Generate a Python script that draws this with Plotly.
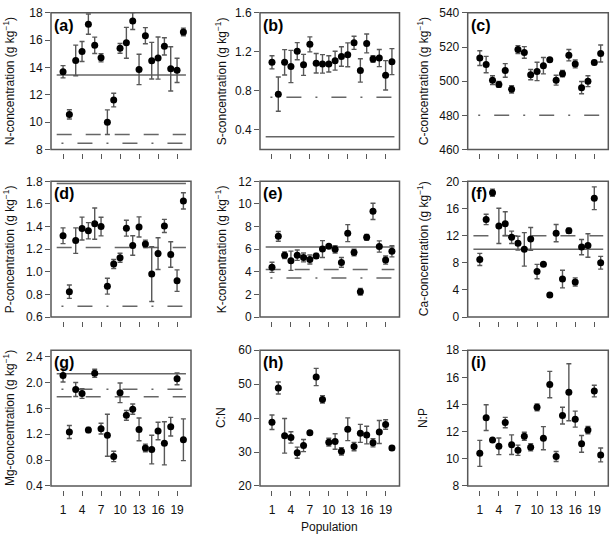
import plotly.graph_objects as go

# ---------------- data ----------------
population = list(range(1, 21))
x_tick_vals = [1, 4, 7, 10, 13, 16, 19]

n_mean = [13.69, 10.57, 14.52, 15.17, 17.17, 15.62, 14.71, 10.0, 11.62, 15.4,
          15.81, 17.4, 13.86, 16.33, 14.5, 14.69, 15.55, 13.9, 13.79, 16.6]
n_se = [0.45, 0.34, 1.12, 0.73, 0.74, 0.6, 0.3, 0.9, 0.5, 0.36,
        1.13, 0.62, 1.11, 0.59, 1.34, 1.54, 0.63, 1.62, 0.89, 0.28]

s_mean = [1.093, 0.767, 1.093, 1.05, 1.207, 1.067, 1.277, 1.083, 1.077, 1.077,
          1.11, 1.153, 1.17, 1.293, 1.01, 1.287, 1.127, 1.137, 0.96, 1.1]
s_se = [0.067, 0.175, 0.13, 0.165, 0.088, 0.108, 0.077, 0.1, 0.095, 0.083,
        0.097, 0.1, 0.122, 0.067, 0.12, 0.097, 0.033, 0.088, 0.15, 0.133]

c_mean = [513.5, 509.7, 500.6, 498.1, 506.3, 495.2, 518.5, 516.8, 503.8, 505.7,
          509.1, 512.6, 500.6, 504.4, 515.2, 510.1, 496.2, 500.0, 511.0, 516.2]
c_se = [4.3, 4.8, 2.6, 1.7, 4.0, 2.1, 2.3, 3.4, 3.0, 5.4,
        4.8, 1.0, 2.9, 1.9, 3.3, 2.3, 3.6, 3.2, 1.2, 5.0]

p_mean = [1.319, 0.824, 1.276, 1.383, 1.363, 1.426, 1.4, 0.873, 1.069, 1.124,
          1.386, 1.233, 1.397, 1.247, 0.98, 1.161, 1.406, 1.153, 0.922, 1.627]
p_se = [0.07, 0.059, 0.113, 0.101, 0.072, 0.138, 0.082, 0.07, 0.04, 0.04,
        0.07, 0.086, 0.089, 0.033, 0.242, 0.14, 0.058, 0.113, 0.095, 0.072]

k_mean = [4.40, 7.14, 5.47, 4.98, 5.47, 5.27, 5.09, 5.41, 6.01, 6.27,
          5.99, 4.83, 7.42, 5.70, 2.24, 7.05, 9.35, 6.24, 5.04, 5.81]
k_se = [0.45, 0.43, 0.29, 0.85, 0.46, 0.39, 0.4, 0.22, 0.75, 0.13,
        0.33, 0.43, 0.75, 0.29, 0.3, 0.26, 0.72, 0.5, 0.36, 0.49]

ca_mean = [8.49, 14.39, 18.32, 13.43, 13.76, 11.75, 10.89, 9.98, 11.51, 6.71,
           7.77, 3.26, 12.37, 5.6, 12.71, 5.18, 10.31, 10.55, 17.51, 8.01]
ca_se = [0.89, 0.77, 0.53, 2.6, 1.75, 0.91, 1.03, 2.47, 1.68, 1.06,
         0.17, 0.22, 1.27, 1.3, 0.38, 0.6, 1.13, 1.73, 1.68, 0.94]

mg_mean = [2.108, 1.235, 1.891, 1.83, 1.265, 2.143, 1.286, 1.185, 0.857, 1.84,
           1.492, 1.588, 1.275, 0.988, 0.963, 1.25, 1.059, 1.316, 2.057, 1.114]
mg_se = [0.1, 0.1, 0.108, 0.076, 0.038, 0.063, 0.083, 0.325, 0.08, 0.152,
         0.076, 0.079, 0.177, 0.059, 0.222, 0.136, 0.333, 0.144, 0.091, 0.323]

cn_mean = [38.76, 48.86, 34.76, 34.29, 29.8, 31.9, 35.7, 52.1, 45.5, 32.9,
           33.1, 30.2, 36.7, 31.6, 35.5, 35.0, 32.7, 35.9, 38.1, 31.2]
cn_se = [2.14, 1.77, 5.1, 1.67, 1.65, 1.8, 0.5, 2.55, 1.1, 1.15,
         2.3, 1.1, 3.35, 1.25, 2.65, 2.6, 1.2, 3.4, 1.4, 0.55]

np_mean = [10.4, 13.03, 11.38, 10.92, 12.67, 11.04, 10.63, 11.66, 10.85, 13.79,
           11.52, 15.47, 10.17, 13.18, 14.9, 12.92, 11.1, 12.12, 14.99, 10.28]
np_se = [0.96, 0.95, 0.12, 0.61, 0.38, 0.72, 0.38, 0.29, 0.27, 0.25,
         0.85, 0.97, 0.37, 0.62, 2.1, 0.59, 0.62, 0.27, 0.43, 0.51]

panel_letters = ["(a)", "(b)", "(c)", "(d)", "(e)", "(f)", "(g)", "(h)", "(i)"]
y_titles = ["N-concentration (g kg<sup>−1</sup>)", "S-concentration (g kg<sup>−1</sup>)",
            "C-concentration (g kg<sup>−1</sup>)", "P-concentration (g kg<sup>−1</sup>)",
            "K-concentration (g kg<sup>−1</sup>)", "Ca-concentration (g kg<sup>−1</sup>)",
            "Mg-concentration (g kg<sup>−1</sup>)", "C:N", "N:P"]
y_ranges = [[8, 18], [0.2, 1.6], [460, 540], [0.6, 1.8], [0, 12], [0, 20],
            [0.4, 2.5], [20, 60], [8, 18]]
y_tick_vals = [[8, 10, 12, 14, 16, 18], [0.4, 0.8, 1.2, 1.6], [460, 480, 500, 520, 540],
               [0.6, 0.8, 1.0, 1.2, 1.4, 1.6, 1.8], [0, 2, 4, 6, 8, 10, 12],
               [0, 4, 8, 12, 16, 20], [0.4, 0.8, 1.2, 1.6, 2.0, 2.4],
               [20, 30, 40, 50, 60], [8, 10, 12, 14, 16, 18]]
y_tick_fmt = ["d", ".1f", "d", ".1f", "d", "d", ".1f", "d", "d"]

ref_solid = [13.45, 0.33, None, 1.78, 6.2, 10.0, 2.135, None, None]
ref_dashed = [9.1, None, None, 1.215, 4.2, 12.0, 1.78, None, None]
ref_dotdash = [8.45, 0.735, 480, 0.695, 3.45, None, 1.895, None, None]

means = [n_mean, s_mean, c_mean, p_mean, k_mean, ca_mean, mg_mean, cn_mean, np_mean]
ses = [n_se, s_se, c_se, p_se, k_se, ca_se, mg_se, cn_se, np_se]

# ---------------- layout geometry (px) ----------------
W, H = 610, 540
col_px = [(51, 191), (260, 399.5), (467.7, 608.3)]
row_px = [(6, 146.3), (179, 318.3), (352.3, 491.7)]
title_x_px = [9, 221, 423]
X_RANGE = [-0.9, 21.2]
LINE_X0, LINE_X1, DOTDASH_X0 = 0.0, 20.4, 0.75
TICK_GAP = 4

FONT = "Liberation Sans, Arial, sans-serif"
GRAY = "#585858"

fig = go.Figure()
layout = dict(
    width=W, height=H, autosize=False,
    margin=dict(l=0, r=0, t=0, b=0),
    paper_bgcolor="white", plot_bgcolor="white",
    showlegend=False,
    font=dict(family=FONT, size=12, color="#111"),
)
shapes = []
annotations = []

for i in range(9):
    r, c = divmod(i, 3)
    n = i + 1
    xs = "x" if n == 1 else f"x{n}"
    ys = "y" if n == 1 else f"y{n}"
    xa = "xaxis" if n == 1 else f"xaxis{n}"
    ya = "yaxis" if n == 1 else f"yaxis{n}"
    x0p, x1p = col_px[c]
    y0p, y1p = row_px[r]
    xdom = [x0p / W, x1p / W]
    ydom = [1 - y1p / H, 1 - y0p / H]

    layout[xa] = dict(
        domain=xdom, range=X_RANGE, anchor="free",
        position=1 - (y1p + TICK_GAP) / H,
        showline=False, showgrid=False, zeroline=False,
        ticks="outside", ticklen=5, tickwidth=1.2, tickcolor=GRAY,
        tickvals=x_tick_vals, showticklabels=(r == 2), ticklabelstandoff=4,
        tickfont=dict(size=12, color="#111"),
    )
    layout[ya] = dict(
        domain=ydom, range=y_ranges[i], anchor=xs,
        showline=False, showgrid=False, zeroline=False,
        ticks="outside", ticklen=5, tickwidth=1.2, tickcolor=GRAY,
        tickvals=y_tick_vals[i], tickformat=y_tick_fmt[i],
        tickfont=dict(size=12, color="#111"),
    )

    # reference lines
    if ref_solid[i] is not None:
        shapes.append(dict(type="line", xref=xs, yref=ys, x0=LINE_X0, x1=LINE_X1,
                           y0=ref_solid[i], y1=ref_solid[i], layer="below",
                           line=dict(color="#666", width=1.5)))
    if ref_dashed[i] is not None:
        shapes.append(dict(type="line", xref=xs, yref=ys, x0=LINE_X0, x1=LINE_X1,
                           y0=ref_dashed[i], y1=ref_dashed[i], layer="below",
                           line=dict(color="#666", width=1.5, dash="15px,14px")))
    if ref_dotdash[i] is not None:
        shapes.append(dict(type="line", xref=xs, yref=ys, x0=DOTDASH_X0, x1=LINE_X1,
                           y0=ref_dotdash[i], y1=ref_dotdash[i], layer="below",
                           line=dict(color="#666", width=1.5, dash="2px,14px,15px,14px")))

    # box
    shapes.append(dict(type="rect", xref=f"{xs} domain", yref=f"{ys} domain",
                       x0=0, x1=1, y0=0, y1=1, layer="above",
                       line=dict(color=GRAY, width=1.5)))

    fig.add_trace(go.Scatter(
        x=population, y=means[i], mode="markers", xaxis=xs, yaxis=ys,
        marker=dict(color="black", size=7),
        error_y=dict(type="data", array=ses[i], color=GRAY, thickness=1.4, width=2.5),
        hoverinfo="x+y",
    ))

    annotations.append(dict(text=f"<b>{panel_letters[i]}</b>", xref=f"{xs} domain",
                            yref=f"{ys} domain", x=0.01, y=0.985, xanchor="left",
                            yanchor="top", showarrow=False,
                            font=dict(size=16, color="black", family=FONT)))
    annotations.append(dict(text=y_titles[i], xref="paper", yref=f"{ys} domain",
                            x=title_x_px[c] / W, y=0.5, xanchor="center", yanchor="middle",
                            textangle=-90, showarrow=False,
                            font=dict(size=12, color="#111", family=FONT)))

annotations.append(dict(text="Population", xref="x8 domain", yref="paper",
                        x=0.5, y=1 - 534 / H, xanchor="center", yanchor="middle",
                        showarrow=False, font=dict(size=12, color="#111", family=FONT)))

layout["shapes"] = shapes
layout["annotations"] = annotations
fig.update_layout(**layout)
fig.write_html("out.html", config={"displayModeBar": False},
               post_script="document.body.style.margin='0';document.body.style.padding='0';")
